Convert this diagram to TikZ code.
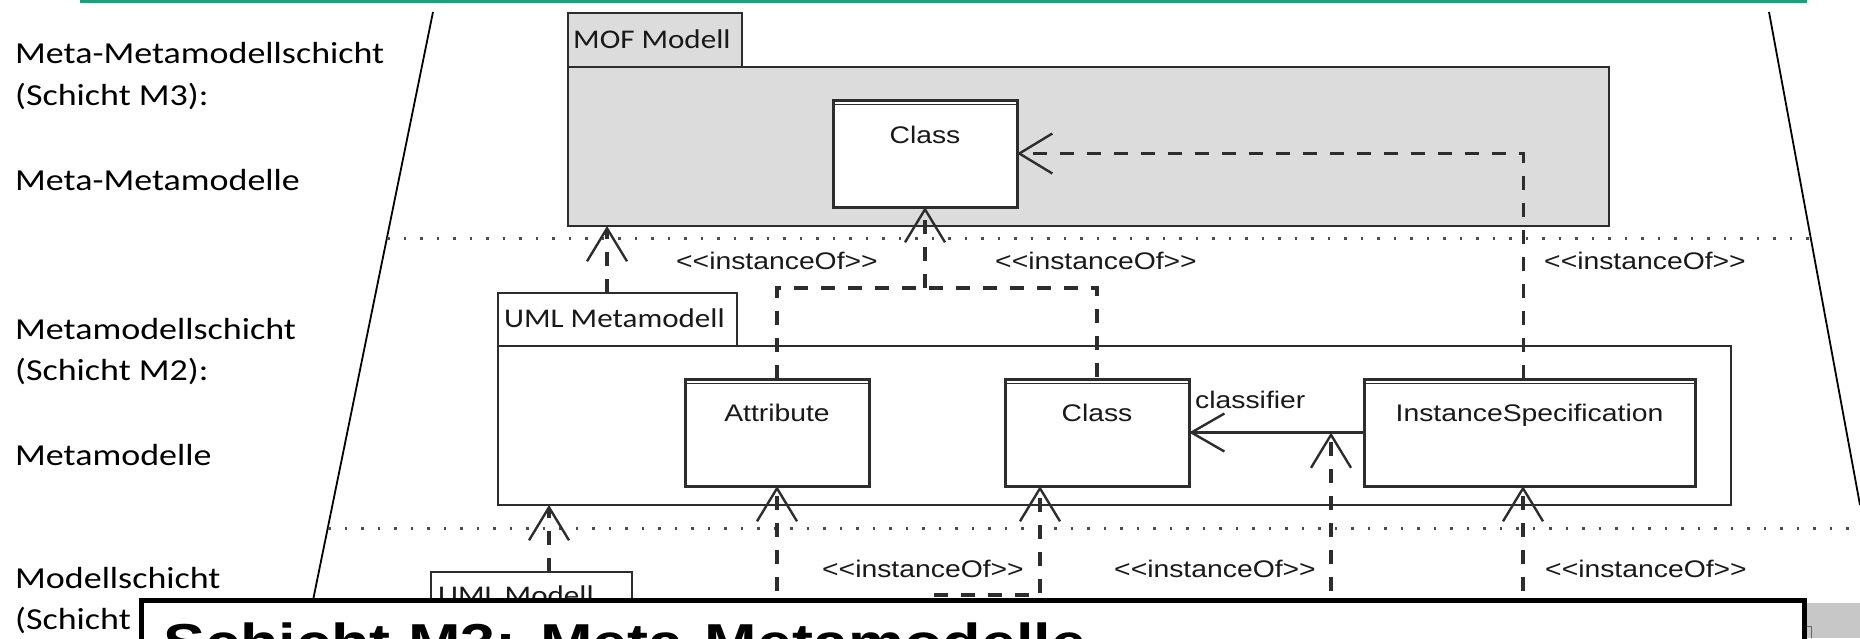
\documentclass[tikz,border=0pt]{standalone}
\usepackage{fontspec}
\usetikzlibrary{arrows.meta}
\newfontfamily\slidefont[FakeStretch=1.18]{Carlito}
\newfontfamily\pkgfont[FakeStretch=1.15]{Carlito}
\newfontfamily\umlfont[FakeStretch=1.18]{Liberation Sans}
\newcommand\stereo[1]{<\kern0pt<#1>\kern0pt>}

\definecolor{rulegreen}{RGB}{30,160,122}
\definecolor{umlline}{RGB}{45,45,45}
\definecolor{pkggray}{RGB}{220,220,220}

\tikzset{
  layertext/.style={anchor=base west, inner sep=0, font=\slidefont\fontsize{30.5}{36}\selectfont, text=black},
  pkgname/.style={anchor=base west, inner sep=0, font=\pkgfont\fontsize{27}{32}\selectfont, text=black!90},
  umltext/.style={inner sep=0, font=\umlfont\fontsize{24}{28}\selectfont, text height=17pt, text depth=0pt, text=black!90},
  pkgbox/.style={draw=umlline, line width=2.6pt, inner sep=0, outer sep=0, anchor=north west},
  classbox/.style={draw=umlline, line width=3pt, fill=white, inner sep=0, outer sep=0, anchor=north west},
  dep/.style={draw=umlline, line width=3.2pt, dash pattern=on 14pt off 13pt, -{Straight Barb[length=33pt,width=40pt,line width=2.4pt]}},
  depline/.style={draw=umlline, line width=3.2pt, dash pattern=on 14pt off 13pt},
  assoc/.style={draw=umlline, line width=2.8pt, -{Straight Barb[length=33pt,width=38pt,line width=2.4pt]}},
  layerline/.style={black!70, line width=3pt, dash pattern=on 2.5pt off 14pt},
  frameline/.style={black, line width=1.8pt},
}

\begin{document}
\begin{tikzpicture}[x=1pt,y=-1pt]
\useasboundingbox (0,0) rectangle (1860,638);
\clip (0,0) rectangle (1860,638);

% title rule and the funnel outline
\draw[rulegreen, line width=3pt] (80,1) -- (1807,1);
\draw[frameline] (433,12) -- (309,620);
\draw[frameline] (1769,12) -- (1860,505);

% layer separators
\draw[layerline] (387,238) -- (1811,238);
\draw[layerline] (328,528) -- (1860,528);

% layer descriptions
\node[layertext] (t3a) at (15,63) {Meta-Metamodellschicht};
\node[layertext] (t3b) at (15,105) {(Schicht M3):};
\node[layertext] (t3c) at (15,190) {Meta-Metamodelle};
\node[layertext] (t2a) at (15,339) {Metamodellschicht};
\node[layertext] (t2b) at (15,380) {(Schicht M2):};
\node[layertext] (t2c) at (15,465) {Metamodelle};
\node[layertext] (t1a) at (15,588) {Modellschicht};
\node[layertext] (t1b) at (15,629) {(Schicht};

% M3: MOF package
\node[pkgbox, fill=pkggray, minimum width=174pt, minimum height=54pt] (moftab) at (568,13) {};
\node[pkgbox, fill=pkggray, minimum width=1041pt, minimum height=159pt] (mofpkg) at (568,67) {};
\node[pkgname] (mofname) at (573,48) {MOF Modell};
\node[classbox, minimum width=184pt, minimum height=107pt] (mofclass) at (833,100) {};

% M2: UML metamodel package
\node[pkgbox, fill=white, minimum width=239pt, minimum height=53pt] (umltab) at (498,293) {};
\node[pkgbox, minimum width=1233pt, minimum height=159pt] (umlpkg) at (498,346) {};
\node[pkgname] (umlname) at (504,327) {UML Metamodell};
\node[classbox, minimum width=184pt, minimum height=107pt] (attr) at (685,379) {};
\node[classbox, minimum width=184pt, minimum height=107pt] (m2class) at (1005,379) {};
\node[classbox, minimum width=331pt, minimum height=107pt] (inst) at (1364,379) {};

% M1: UML model package
\node[pkgbox, fill=white, minimum width=201pt, minimum height=60pt] (umlmtab) at (431,572) {};
\node[pkgname] (umlmname) at (438,604) {UML Modell};

% second rule under the class names
\foreach \b in {mofclass,attr,m2class,inst}
  \draw[umlline, line width=1.4pt] ([yshift=-4.5pt]\b.north west) -- ([yshift=-4.5pt]\b.north east);

% class names
\node[umltext] (mofclassname) at ([yshift=-35pt]mofclass.north) {Class};
\node[umltext] (attrname) at ([yshift=-34pt]attr.north) {Attribute};
\node[umltext] (m2classname) at ([yshift=-34pt]m2class.north) {Class};
\node[umltext] (instname) at ([yshift=-34pt]inst.north) {InstanceSpecification};

% M2 -> M3 instanceOf dependencies
\draw[dep] ([xshift=-10.5pt]umltab.north) -- ([xshift=-10.5pt]umltab.north |- mofpkg.south);
\coordinate (fork) at (mofclass.south |- 0,288);
\draw[depline] (attr.north) |- (fork) -| (m2class.north);
\draw[dep] (fork) -- (mofclass.south);
\draw[dep] ([xshift=-6pt]inst.north) |- (mofclass.east);

% classifier association
\draw[assoc] (inst.west) -- (m2class.east);
\node[umltext, anchor=west] (classifierlbl) at (1195,400) {classifier};

% M1 -> M2 instanceOf dependencies
\coordinate (attrsrc) at (777,645);
\coordinate (clssrc) at (930,645);
\coordinate (lnksrc) at (1331,645);
\coordinate (instsrc) at (1523,645);
\draw[dep] ([xshift=17.5pt]umlmtab.north) -- ([xshift=17.5pt]umlmtab.north |- umlpkg.south);
\draw[dep] (attrsrc) -- (attr.south);
\draw[dep] (clssrc) |- ([xshift=-57pt]m2class.south |- 0,595) -- ([xshift=-57pt]m2class.south);
\draw[dep] (lnksrc) -- (lnksrc |- inst.west);
\draw[dep] (instsrc) -- (instsrc |- inst.south);

% stereotype labels
\node[umltext, anchor=west] (io1) at (676,261) {\stereo{instanceOf}};
\node[umltext, anchor=west] (io2) at (995,261) {\stereo{instanceOf}};
\node[umltext, anchor=west] (io3) at (1544,261) {\stereo{instanceOf}};
\node[umltext, anchor=west] (io4) at (822,569) {\stereo{instanceOf}};
\node[umltext, anchor=west] (io5) at (1114,569) {\stereo{instanceOf}};
\node[umltext, anchor=west] (io6) at (1545,569) {\stereo{instanceOf}};

% caption banner
\fill[black!22] (1806,603) rectangle (1860,638);
\draw[black!60, line width=1pt] (1806,626) -- (1811,626) -- (1811,638);
\node[draw=black, line width=5pt, fill=white, anchor=north west, inner sep=0, outer sep=0,
      minimum width=1663pt, minimum height=120pt] (banner) at (141,600.5) {};
\node[anchor=base west, inner sep=0, font=\umlfont\bfseries\fontsize{53.4}{60}\selectfont] (bannertext)
      at (163,661) {Schicht M3: Meta-Metamodelle};
\end{tikzpicture}
\end{document}
